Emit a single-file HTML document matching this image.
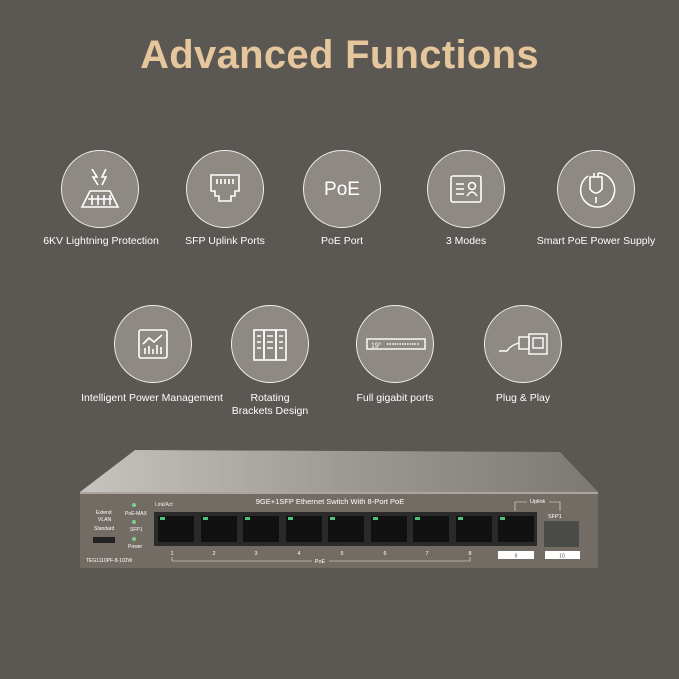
<!DOCTYPE html><html><head><style>
body{margin:0;width:679px;height:679px;background:#5b5752;position:relative;overflow:hidden;font-family:"Liberation Sans",sans-serif}
.t{position:absolute;left:0;width:679px;top:33px;text-align:center;color:#e6c69c;font-weight:bold;font-size:40px;letter-spacing:0.3px}
.c{position:absolute;width:76px;height:76px;border:1.5px solid #eee;border-radius:50%;background:#8f8983}
.c svg{position:absolute;left:0;top:0}
.l{position:absolute;width:200px;text-align:center;color:#fff;font-size:10.5px;line-height:13px}
</style></head><body>
<div class="t">Advanced Functions</div>

<div class="c" style="left:61px;top:150px"><svg width="76" height="76" stroke="#fff" fill="none" stroke-width="1.6"><path d="M20 56 L28 40 L48 40 L56 56 Z M26 48 h24 M30 44 v10 M36 44 v10 M42 44 v10 M48 44 v10"/><path d="M30 18 l5 8 -4 0 5 8 M44 18 l-4 8 4 0 -4 8"/></svg></div>
<div class="l" style="left:1px;top:235px">6KV Lightning Protection</div>

<div class="c" style="left:186px;top:150px"><svg width="76" height="76" stroke="#fff" fill="none" stroke-width="1.6"><path d="M24 24 h28 v16 h-4 v5 h-4 v5 h-12 v-5 h-4 v-5 h-4 Z M30 28 v5 M34 28 v5 M38 28 v5 M42 28 v5 M46 28 v5"/></svg></div>
<div class="l" style="left:125px;top:235px">SFP Uplink Ports</div>

<div class="c" style="left:303px;top:150px"><svg width="76" height="76"><text x="38" y="44" text-anchor="middle" fill="#fff" font-family="Liberation Sans" font-size="19">PoE</text></svg></div>
<div class="l" style="left:242px;top:235px">PoE Port</div>

<div class="c" style="left:427px;top:150px"><svg width="76" height="76" stroke="#fff" fill="none" stroke-width="1.6"><rect x="23" y="25" width="30" height="26" rx="2"/><path d="M28 33h8 M28 38h8 M28 43h8"/><circle cx="44" cy="35" r="3.5"/><path d="M39 45 q5 -8 10 0"/></svg></div>
<div class="l" style="left:366px;top:235px">3 Modes</div>

<div class="c" style="left:557px;top:150px"><svg width="76" height="76" stroke="#fff" fill="none" stroke-width="1.6"><path d="M40 22 a17 17 0 1 1 -10 3"/><path d="M32 26 v12 q6 8 12 0 v-12 Z M36 26 v-4 M40 26 v-4 M38 46 v6"/></svg></div>
<div class="l" style="left:496px;top:235px">Smart PoE Power Supply</div>

<div class="c" style="left:114px;top:305px"><svg width="76" height="76" stroke="#fff" fill="none" stroke-width="1.6"><rect x="24" y="24" width="28" height="28" rx="2"/><path d="M28 38 l6 -6 5 4 8 -7 M30 48 v-6 M34 48 v-8 M38 48 v-5 M42 48 v-9 M46 48 v-7"/></svg></div>
<div class="l" style="left:52px;top:392px">Intelligent Power Management</div>

<div class="c" style="left:231px;top:305px"><svg width="76" height="76" stroke="#fff" fill="none" stroke-width="1.6"><rect x="22" y="24" width="10" height="30"/><rect x="32" y="24" width="12" height="30"/><rect x="44" y="24" width="10" height="30"/><path d="M25 30h4 M25 36h4 M25 42h4 M35 30h6 M35 36h6 M35 42h6 M47 30h4 M47 36h4 M47 42h4"/></svg></div>
<div class="l" style="left:170px;top:392px">Rotating<br>Brackets Design</div>

<div class="c" style="left:356px;top:305px"><svg width="76" height="76" stroke="#fff" fill="none" stroke-width="1.4"><rect x="10" y="33" width="58" height="10"/><text x="14" y="41.5" fill="#fff" stroke="none" font-size="7" font-family="Liberation Sans">19°</text><path d="M30 38 h32" stroke-dasharray="1.5 1"/></svg></div>
<div class="l" style="left:295px;top:392px">Full gigabit ports</div>

<div class="c" style="left:484px;top:305px"><svg width="76" height="76" stroke="#fff" fill="none" stroke-width="1.4"><rect x="44" y="28" width="18" height="20"/><rect x="48" y="32" width="10" height="10"/><rect x="34" y="31" width="10" height="12"/><path d="M34 37 q-8 2 -12 8 h-8"/></svg></div>
<div class="l" style="left:423px;top:392px">Plug &amp; Play</div>

<svg width="679" height="679" style="position:absolute;left:0;top:0" font-family="Liberation Sans">
<defs><linearGradient id="g" x1="0" x2="1"><stop offset="0" stop-color="#c7c4c0"/><stop offset="0.5" stop-color="#9e9a95"/><stop offset="1" stop-color="#7d7873"/></linearGradient></defs>
<polygon points="135,450 560,452 598,492 80,492" fill="url(#g)"/>
<rect x="80" y="492" width="518" height="76" fill="#736c64"/>
<rect x="80" y="492" width="518" height="2" fill="#aaa49c"/>
<text x="330" y="504" fill="#fff" font-size="7.5" text-anchor="middle">9GE+1SFP Ethernet Switch With 8-Port PoE</text>
<text x="155" y="506" fill="#eee" font-size="5">Link/Act</text>
<text x="96" y="514" fill="#fff" font-size="5">Extend</text><text x="98" y="521" fill="#fff" font-size="5">VLAN</text><text x="94" y="530" fill="#fff" font-size="5">Standard</text>
<rect x="93" y="537" width="22" height="6" fill="#222"/>
<text x="125" y="515" fill="#fff" font-size="5">PoE-MAX</text><text x="130" y="531" fill="#fff" font-size="5">SFP1</text><text x="128" y="548" fill="#fff" font-size="5">Power</text>
<circle cx="134" cy="505" r="2" fill="#7fcf8a"/><circle cx="134" cy="522" r="2" fill="#7fcf8a"/><circle cx="134" cy="539" r="2" fill="#7fcf8a"/>
<text x="86" y="562" fill="#fff" font-size="5">TEG1110PF-8-102W</text>
<rect x="154" y="512" width="383" height="34" fill="#2a2a2a"/>
<g fill="#111">
<rect x="158" y="516" width="36" height="26"/><rect x="201" y="516" width="36" height="26"/><rect x="243" y="516" width="36" height="26"/><rect x="286" y="516" width="36" height="26"/><rect x="328" y="516" width="36" height="26"/><rect x="371" y="516" width="36" height="26"/><rect x="413" y="516" width="36" height="26"/><rect x="456" y="516" width="36" height="26"/><rect x="498" y="516" width="36" height="26"/></g>
<g fill="#4fc27a"><rect x="160" y="517" width="5" height="3"/><rect x="203" y="517" width="5" height="3"/><rect x="245" y="517" width="5" height="3"/><rect x="288" y="517" width="5" height="3"/><rect x="330" y="517" width="5" height="3"/><rect x="373" y="517" width="5" height="3"/><rect x="415" y="517" width="5" height="3"/><rect x="458" y="517" width="5" height="3"/><rect x="500" y="517" width="5" height="3"/></g>
<rect x="544" y="521" width="35" height="26" fill="#4a4a48"/>
<text x="548" y="518" fill="#fff" font-size="5.5">SFP1</text>
<path d="M515 511 v-9 h45 v9" stroke="#eee" fill="none" stroke-width="0.6"/><rect x="527" y="497" width="22" height="7" fill="#736c64"/><text x="530" y="503" fill="#fff" font-size="5.5">Uplink</text>
<rect x="498" y="551" width="36" height="8" fill="#fff"/><rect x="545" y="551" width="35" height="8" fill="#fff"/>
<text x="516" y="557.5" font-size="5" text-anchor="middle" fill="#555">9</text><text x="562" y="557.5" font-size="5" text-anchor="middle" fill="#555">10</text>
<g fill="#fff" font-size="5.5" text-anchor="middle"><text x="172" y="555">1</text><text x="214" y="555">2</text><text x="256" y="555">3</text><text x="299" y="555">4</text><text x="342" y="555">5</text><text x="385" y="555">6</text><text x="427" y="555">7</text><text x="470" y="555">8</text><text x="320" y="563">PoE</text></g>
<path d="M172 557 v4 h140 M329 561 h141 v-4" stroke="#eee" fill="none" stroke-width="0.6"/>
</svg>
</body></html>
